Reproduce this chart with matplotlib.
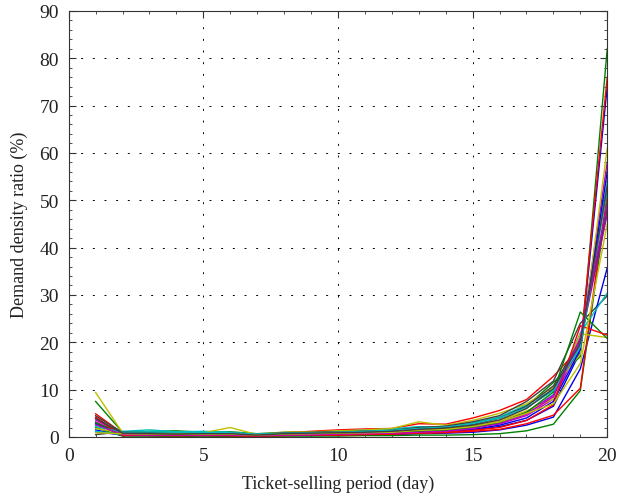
import numpy as np
import matplotlib
matplotlib.use("Agg")
import matplotlib.pyplot as plt
from matplotlib.ticker import MultipleLocator

plt.rcParams['font.family'] = ['Liberation Serif', 'DejaVu Serif']

days = list(range(1, 21))

# demand density ratio (%) per ticket-selling day, one list per sample
s0 = [1.0, 0.5, 0.4, 0.3, 0.3, 0.4, 0.3, 0.5, 0.5, 0.6, 0.7, 0.8, 1.0, 1.2, 1.5, 2.2, 3.5, 6.5, 18.0, 74.0]
s1 = [7.5, 1.0, 1.2, 1.3, 1.0, 1.1, 0.7, 1.0, 1.1, 1.2, 1.3, 1.5, 2.0, 2.2, 2.8, 4.0, 6.5, 11.5, 17.0, 82.0]
s2 = [4.9, 0.8, 0.8, 0.7, 0.7, 0.8, 0.4, 0.9, 1.2, 1.5, 1.7, 1.8, 2.8, 2.7, 4.0, 5.6, 7.9, 12.8, 19.0, 76.0]
s3 = [2.5, 1.2, 1.5, 1.1, 1.2, 1.0, 0.6, 0.8, 1.0, 1.2, 1.5, 1.7, 2.2, 2.0, 3.0, 4.2, 6.8, 10.0, 18.5, 54.0]
s4 = [3.2, 0.6, 0.7, 0.6, 0.6, 0.5, 0.3, 0.6, 0.7, 0.8, 1.0, 1.0, 1.2, 1.5, 2.0, 2.8, 4.5, 8.0, 19.5, 58.0]
s5 = [9.4, 0.9, 1.0, 0.8, 0.9, 2.0, 0.5, 1.0, 1.1, 1.3, 1.5, 1.8, 3.2, 2.5, 3.5, 5.0, 7.0, 10.5, 17.5, 61.0]
s6 = [0.5, 1.1, 0.9, 0.8, 0.8, 0.9, 0.5, 0.8, 1.0, 1.1, 1.2, 1.4, 2.0, 2.3, 3.2, 4.5, 7.5, 11.8, 24.0, 29.8]
s7 = [1.5, 0.3, 0.3, 0.2, 0.3, 0.2, 0.2, 0.3, 0.3, 0.4, 0.5, 0.5, 0.7, 0.8, 1.0, 1.5, 2.5, 4.2, 14.4, 35.7]
s8 = [2.0, 0.2, 0.2, 0.1, 0.2, 0.1, 0.1, 0.2, 0.2, 0.2, 0.3, 0.3, 0.4, 0.4, 0.5, 0.7, 1.3, 2.7, 9.8, 50.0]
s9 = [4.2, 0.4, 0.3, 0.3, 0.4, 0.3, 0.2, 0.3, 0.4, 0.4, 0.5, 0.6, 0.8, 0.9, 1.2, 1.6, 2.8, 4.6, 10.3, 51.6]
s10 = [1.2, 0.5, 0.6, 0.4, 0.5, 0.5, 0.3, 0.5, 0.6, 0.7, 0.8, 0.9, 1.2, 1.3, 2.0, 3.0, 5.0, 9.0, 22.0, 30.4]
s11 = [3.6, 0.7, 0.6, 0.5, 0.6, 0.6, 0.4, 0.6, 0.8, 0.9, 1.0, 1.1, 1.5, 1.7, 2.2, 3.2, 5.2, 8.8, 20.0, 47.0]
s12 = [1.8, 0.8, 0.7, 0.7, 0.7, 0.7, 0.4, 0.7, 0.8, 1.0, 1.1, 1.3, 1.6, 1.8, 2.5, 3.5, 5.5, 8.0, 21.8, 21.0]
s13 = [4.5, 0.9, 0.8, 0.8, 0.7, 0.8, 0.5, 0.9, 0.9, 1.0, 1.2, 1.3, 1.8, 2.0, 2.7, 4.0, 6.5, 10.8, 20.5, 48.0]
s14 = [2.8, 0.4, 0.5, 0.4, 0.4, 0.4, 0.3, 0.4, 0.5, 0.6, 0.7, 0.8, 1.0, 1.1, 1.6, 2.5, 4.0, 7.5, 18.5, 56.0]
s15 = [3.0, 0.6, 0.5, 0.5, 0.5, 0.5, 0.3, 0.5, 0.6, 0.7, 0.8, 0.9, 1.2, 1.4, 2.0, 3.0, 5.2, 9.5, 26.4, 20.8]
s16 = [4.0, 0.3, 0.4, 0.3, 0.3, 0.3, 0.2, 0.4, 0.5, 0.5, 0.6, 0.7, 0.9, 1.0, 1.4, 2.0, 3.5, 6.8, 23.5, 21.5]
s17 = [2.2, 1.0, 1.1, 1.0, 1.0, 0.9, 0.6, 0.8, 0.9, 1.0, 1.2, 1.4, 1.8, 2.1, 2.8, 4.0, 6.2, 9.8, 19.0, 52.0]
s18 = [2.6, 0.5, 0.4, 0.4, 0.4, 0.4, 0.3, 0.4, 0.5, 0.6, 0.7, 0.8, 1.0, 1.2, 1.8, 2.8, 4.8, 8.5, 21.0, 49.0]
s19 = [0.9, 0.7, 0.6, 0.6, 0.6, 0.6, 0.4, 0.6, 0.7, 0.8, 0.9, 1.0, 1.4, 1.6, 2.2, 3.2, 5.0, 7.0, 15.5, 45.0]
s20 = [3.9, 0.8, 0.7, 0.6, 0.7, 0.7, 0.4, 0.7, 0.8, 0.9, 1.0, 1.2, 1.6, 1.9, 2.5, 3.6, 6.0, 10.2, 19.8, 53.0]

series = [s0, s1, s2, s3, s4, s5, s6, s7, s8, s9, s10, s11, s12, s13, s14, s15,
          s16, s17, s18, s19, s20]

# old matlab line colour order
colors = [(0, 0, 0.9), (0, 0.5, 0), (1, 0, 0), (0, 0.75, 0.75),
          (0.75, 0, 0.75), (0.75, 0.75, 0), (0.25, 0.25, 0.25)]

fig = plt.figure(figsize=(6.19, 5.02), dpi=100)
ax = fig.add_axes([0.111, 0.1275, 0.870, 0.849])

for i, s in enumerate(series):
    ax.plot(days, s, color=colors[i % 7], lw=1.0)

ax.set_xlim(0, 20)
ax.set_ylim(0, 90)
ax.xaxis.set_major_locator(MultipleLocator(5))
ax.xaxis.set_minor_locator(MultipleLocator(1))
ax.yaxis.set_major_locator(MultipleLocator(10))
ax.yaxis.set_minor_locator(MultipleLocator(2))
ax.grid(True, which='major', linestyle=(0, (2, 10)), color='black', lw=0.7)
ax.tick_params(which='both', direction='in', top=True, right=True,
               labelsize=14, colors='#333333', labelcolor='#222222', pad=7)
ax.tick_params(which='major', length=5)
ax.tick_params(which='minor', length=2.5)
for sp in ax.spines.values():
    sp.set_color('#333333')

ax.set_xlabel('Ticket-selling period (day)', fontsize=13, color='#222222', labelpad=8)
ax.set_ylabel('Demand density ratio (%)', fontsize=13, color='#222222', labelpad=8)

fig.savefig('out.png', dpi=100)
